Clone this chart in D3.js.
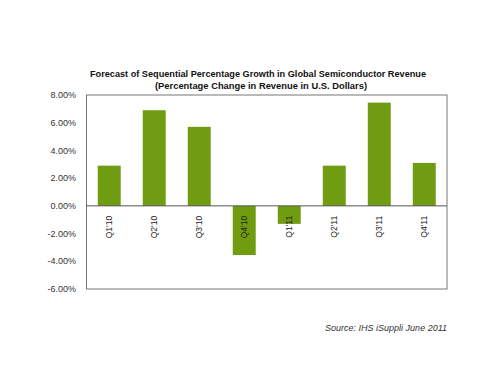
<!DOCTYPE html>
<html>
<head>
<meta charset="utf-8">
<script src="https://cdn.jsdelivr.net/npm/d3@7"></script>
<style>
  body { margin: 0; background: #fff; }
  svg { display: block; font-family: "Liberation Sans", Arial, sans-serif; }
</style>
</head>
<body>
<div id="chart"></div>
<script>
// data
const quarters = ["Q1 '10", "Q2 '10", "Q3 '10", "Q4 '10", "Q1 '11", "Q2 '11", "Q3 '11", "Q4 '11"];
const growth = [2.9, 6.9, 5.7, -3.55, -1.3, 2.9, 7.45, 3.1];
const yTicks = [8, 6, 4, 2, 0, -2, -4, -6];

const W = 500, H = 375;
const box = { left: 86.5, top: 95, right: 447, bottom: 289 };

const svg = d3.select("#chart").append("svg")
    .attr("width", W).attr("height", H);

const x = d3.scaleBand().domain(quarters)
    .range([box.left, box.right]).paddingInner(0.49).paddingOuter(0.25);
const y = d3.scaleLinear().domain([-6, 8]).range([box.bottom, box.top]);

// title
svg.append("text").attr("x", 258).attr("y", 77)
    .attr("text-anchor", "middle").attr("font-weight", "bold").attr("font-size", 9.5)
    .attr("textLength", 336).attr("lengthAdjust", "spacingAndGlyphs").attr("fill", "#111")
    .text("Forecast of Sequential Percentage Growth in Global Semiconductor Revenue");
svg.append("text").attr("x", 261).attr("y", 89)
    .attr("text-anchor", "middle").attr("font-weight", "bold").attr("font-size", 9.5)
    .attr("textLength", 212).attr("lengthAdjust", "spacingAndGlyphs").attr("fill", "#111")
    .text("(Percentage Change in Revenue in U.S. Dollars)");

// plot frame
svg.append("rect")
    .attr("x", box.left).attr("y", box.top)
    .attr("width", box.right - box.left).attr("height", box.bottom - box.top)
    .attr("fill", "none").attr("stroke", "#777").attr("stroke-width", 1);

// y labels
svg.append("g").selectAll("text")
    .data(yTicks).join("text")
    .attr("x", 76).attr("y", d => y(d)).attr("dy", "0.35em")
    .attr("text-anchor", "end").attr("font-size", 9).attr("fill", "#333")
    .text(d => d.toFixed(2) + "%");

// bars
svg.append("g").selectAll("rect")
    .data(quarters).join("rect")
    .attr("x", d => x(d))
    .attr("width", x.bandwidth())
    .attr("y", (d, i) => y(Math.max(0, growth[i])))
    .attr("height", (d, i) => Math.abs(y(growth[i]) - y(0)))
    .attr("fill", "#6f9c10");

// zero line
svg.append("line")
    .attr("x1", box.left).attr("x2", box.right)
    .attr("y1", y(0)).attr("y2", y(0))
    .attr("stroke", "#555").attr("stroke-width", 1);

// category labels, rotated
svg.append("g").selectAll("text")
    .data(quarters).join("text")
    .attr("transform", d => `translate(${x(d) + x.bandwidth() / 2 + 3},${y(0) + 10}) rotate(-90)`)
    .attr("text-anchor", "end").attr("font-size", 8.5).attr("fill", "#222")
    .text(d => d.replace(" ", ""));

// source
svg.append("text").attr("x", 447).attr("y", 331)
    .attr("text-anchor", "end").attr("font-style", "italic").attr("font-size", 9)
    .attr("fill", "#333")
    .text("Source: IHS iSuppli June 2011");
</script>
</body>
</html>
